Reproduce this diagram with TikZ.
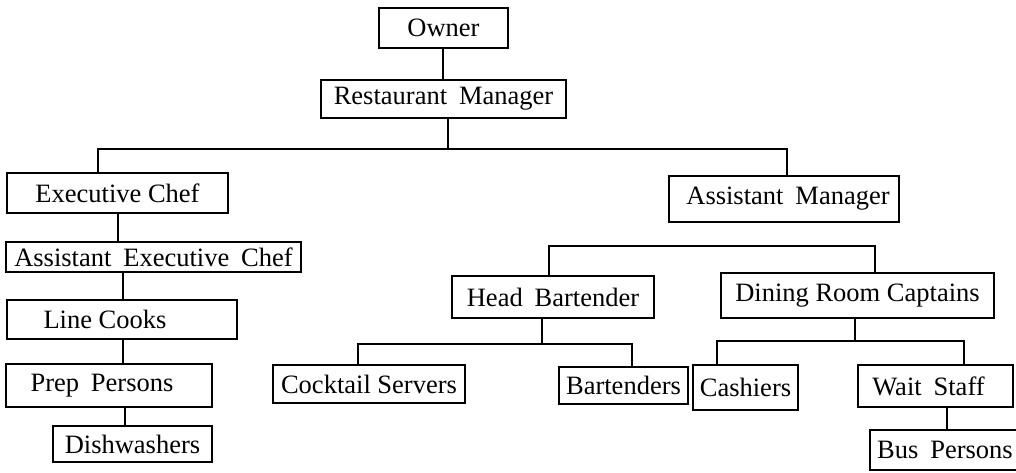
\documentclass[tikz,border=0pt]{standalone}
\usepackage{fontspec}
\setmainfont{Liberation Serif}
\newcommand{\wsp}{\hspace{0.45em}}
\begin{document}
\begin{tikzpicture}[x=1pt,y=-1pt,
  orgbox/.style={draw, line width=1.8pt, inner sep=0pt, font=\fontsize{26.5}{30}\selectfont},
  link/.style={line width=1.6pt}]
\useasboundingbox (0,0) rectangle (1016,472);
% boxes
\node[orgbox, minimum width=129pt, minimum height=40pt] (owner) at (443.5,28) {Owner};
\node[orgbox, minimum width=245pt, minimum height=38pt] (rm) at (443.5,99) {Restaurant\wsp Manager};
\node[orgbox, minimum width=221pt, minimum height=40pt] (ec) at (117.5,193) {Executive Chef};
\node[orgbox, minimum width=230pt, minimum height=46pt] (am) at (784,199) {\hspace*{8pt}Assistant\wsp Manager};
\node[orgbox, minimum width=295pt, minimum height=30pt] (aec) at (153.5,257) {Assistant\wsp Executive\wsp Chef};
\node[orgbox, minimum width=230pt, minimum height=39pt] (lc) at (122,319.5) {Line Cooks\hspace*{34pt}};
\node[orgbox, minimum width=206pt, minimum height=43pt] (pp) at (109,385.5) {Prep\wsp Persons\hspace*{14pt}};
\node[orgbox, minimum width=159pt, minimum height=36pt] (dw) at (132.5,444) {Dishwashers};
\node[orgbox, minimum width=202pt, minimum height=42pt] (hb) at (553,297) {Head\wsp Bartender};
\node[orgbox, minimum width=273pt, minimum height=45pt] (drc) at (857.5,295.5) {Dining Room Captains};
\node[orgbox, minimum width=192pt, minimum height=38pt] (cs) at (369,384) {Cocktail Servers};
\node[orgbox, minimum width=129pt, minimum height=37pt] (bt) at (623.5,385.5) {Bartenders};
\node[orgbox, minimum width=105pt, minimum height=45pt] (ca) at (745.5,387.5) {Cashiers};
\node[orgbox, minimum width=155pt, minimum height=42pt] (ws) at (935.5,386) {Wait\wsp Staff\hspace*{14pt}};
\node[orgbox, minimum width=150pt, minimum height=40pt] (bp) at (945,450) {Bus\wsp Persons};
% connectors
\draw[link] ([xshift=-0.5pt]owner.south) -- ([xshift=-0.5pt]owner.south |- rm.north);
\draw[link] ([xshift=4.5pt]rm.south) -- ++(0,30) coordinate (j1);
\draw[link] ([xshift=-19.5pt]ec.north) |- (j1) -| ([xshift=3pt]am.north);
\draw[link] ([xshift=0.5pt]ec.south) -- ([xshift=0.5pt]ec.south |- aec.north);
\draw[link] ([xshift=1pt]lc.north) -- ([xshift=1pt]lc.north |- aec.south);
\draw[link] ([xshift=1pt]lc.south) -- ([xshift=1pt]lc.south |- pp.north);
\draw[link] ([xshift=16pt]pp.south) -- ([xshift=16pt]pp.south |- dw.north);
\draw[link] ([xshift=-4pt]hb.north) -- ++(0,-29) -| ([xshift=17.5pt]drc.north);
\draw[link] ([xshift=-11pt]hb.south) -- ++(0,25) coordinate (j2);
\draw[link] ([xshift=-11pt]cs.north) |- (j2) -| ([xshift=8.5pt]bt.north);
\draw[link] ([xshift=-2.5pt]drc.south) -- ++(0,22) coordinate (j3);
\draw[link] ([xshift=-28.5pt]ca.north) |- (j3) -| ([xshift=28.5pt]ws.north);
\draw[link] ([xshift=11.5pt]ws.south) -- ([xshift=11.5pt]ws.south |- bp.north);
\end{tikzpicture}
\end{document}
